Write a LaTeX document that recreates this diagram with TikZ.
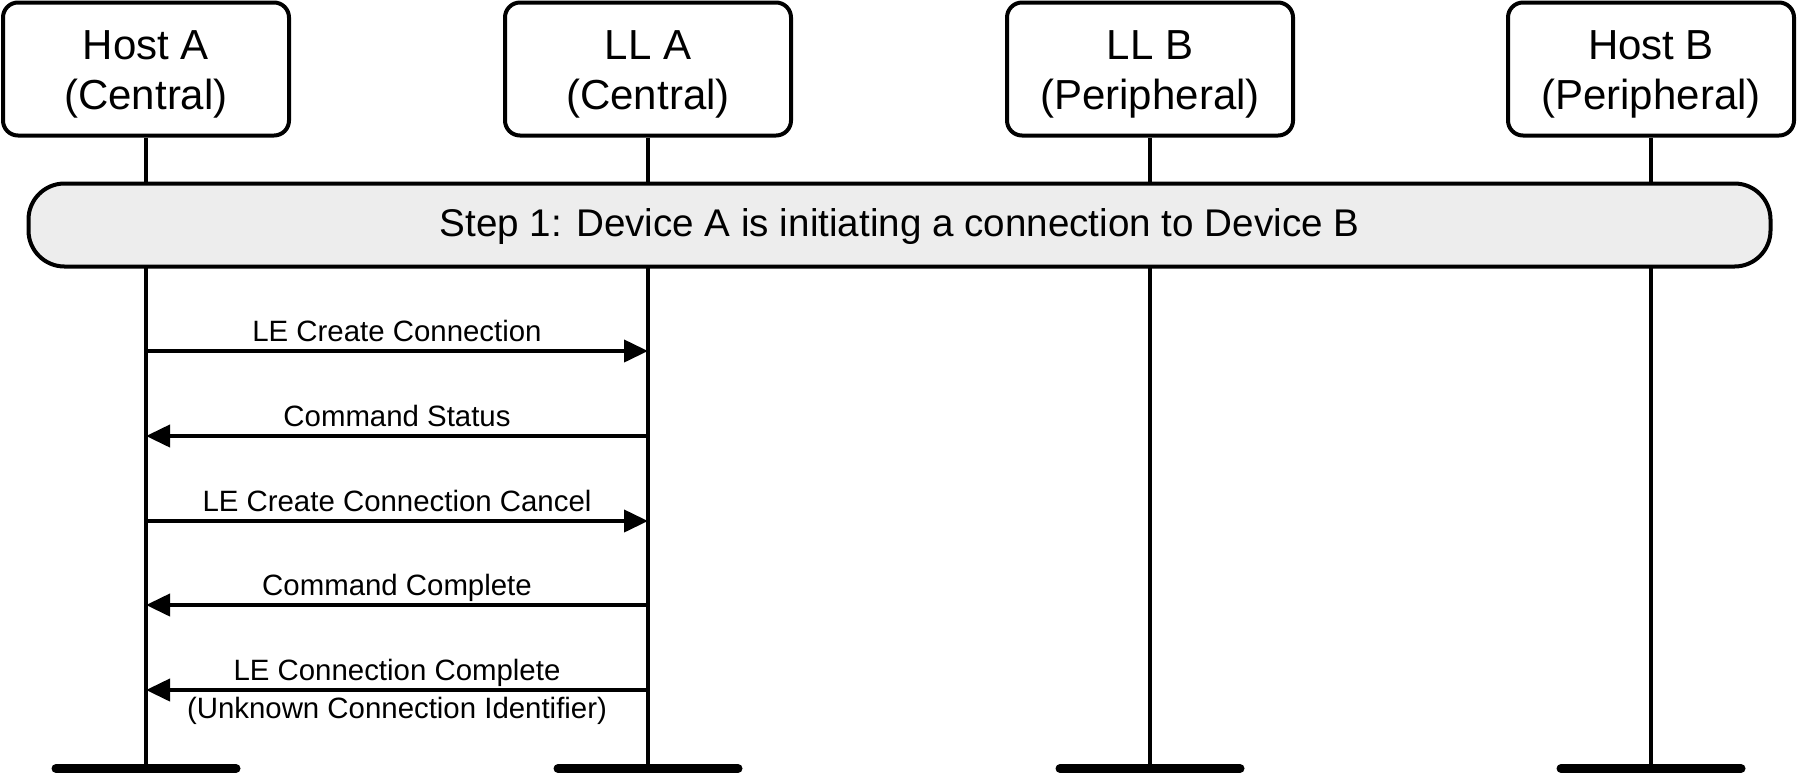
\documentclass[tikz,border=0pt]{standalone}
\usepackage{fontspec}
\setmainfont{Liberation Sans}
\usetikzlibrary{arrows.meta}
\begin{document}
\begin{tikzpicture}[x=0.5pt,y=-0.5pt,
  header/.style={draw=black, line width=2pt, rounded corners=7.5pt, fill=white, minimum width=143pt, minimum height=66.5pt, inner sep=0pt, align=center, font=\fontsize{21}{25}\selectfont},
  stepbox/.style={draw=black, line width=2pt, rounded corners=18pt, fill=black!7, minimum width=871pt, minimum height=41.5pt, inner sep=0pt, font=\fontsize{19.3}{23}\selectfont},
  lifeline/.style={line width=1.8pt},
  endbar/.style={line width=4.5pt, line cap=round},
  msg/.style={line width=2pt, -{Triangle[length=12pt,width=11pt]}},
  lbl/.style={font=\fontsize{14.7}{17}\selectfont, anchor=base, inner sep=0pt}
]
\useasboundingbox (0,0) rectangle (1798,773);

% headers
\node[header] (hA) at (146,69) {\rule{0pt}{19.5pt}Host A\\(Central)};
\node[header] (lA) at (648,69) {\rule{0pt}{19.5pt}LL A\\(Central)};
\node[header] (lB) at (1150,69) {\rule{0pt}{19.5pt}LL B\\(Peripheral)};
\node[header] (hB) at (1651,69) {\rule{0pt}{19.5pt}Host B\\(Peripheral)};

% lifeline ends
\coordinate (hAe) at (146,768.5);
\coordinate (lAe) at (648,768.5);
\coordinate (lBe) at (1150,768.5);
\coordinate (hBe) at (1651,768.5);

\foreach \n in {hA,lA,lB,hB}{
  \draw[lifeline] (\n.south) -- (\n e);
  \draw[endbar] ([xshift=-45pt]\n e) -- ([xshift=45pt]\n e);
}

% step box
\node[stepbox] (step) at (899.5,225) {\rule{0pt}{15.5pt}Step 1: Device A is initiating a connection to Device B};

% message points
\coordinate (a1) at (146,351); \coordinate (b1) at (648,351);
\coordinate (a2) at (146,436); \coordinate (b2) at (648,436);
\coordinate (a3) at (146,521); \coordinate (b3) at (648,521);
\coordinate (a4) at (146,605); \coordinate (b4) at (648,605);
\coordinate (a5) at (146,690); \coordinate (b5) at (648,690);

\draw[msg] (a1) -- (b1) node[lbl, midway, yshift=5pt] {LE Create Connection};
\draw[msg] (b2) -- (a2) node[lbl, midway, yshift=5pt] {Command Status};
\draw[msg] (a3) -- (b3) node[lbl, midway, yshift=5pt] {LE Create Connection Cancel};
\draw[msg] (b4) -- (a4) node[lbl, midway, yshift=5pt] {Command Complete};
\draw[msg] (b5) -- (a5) node[lbl, midway, yshift=5pt] {LE Connection Complete}
                        node[lbl, midway, yshift=-14pt] {(Unknown Connection Identifier)};
\end{tikzpicture}
\end{document}
